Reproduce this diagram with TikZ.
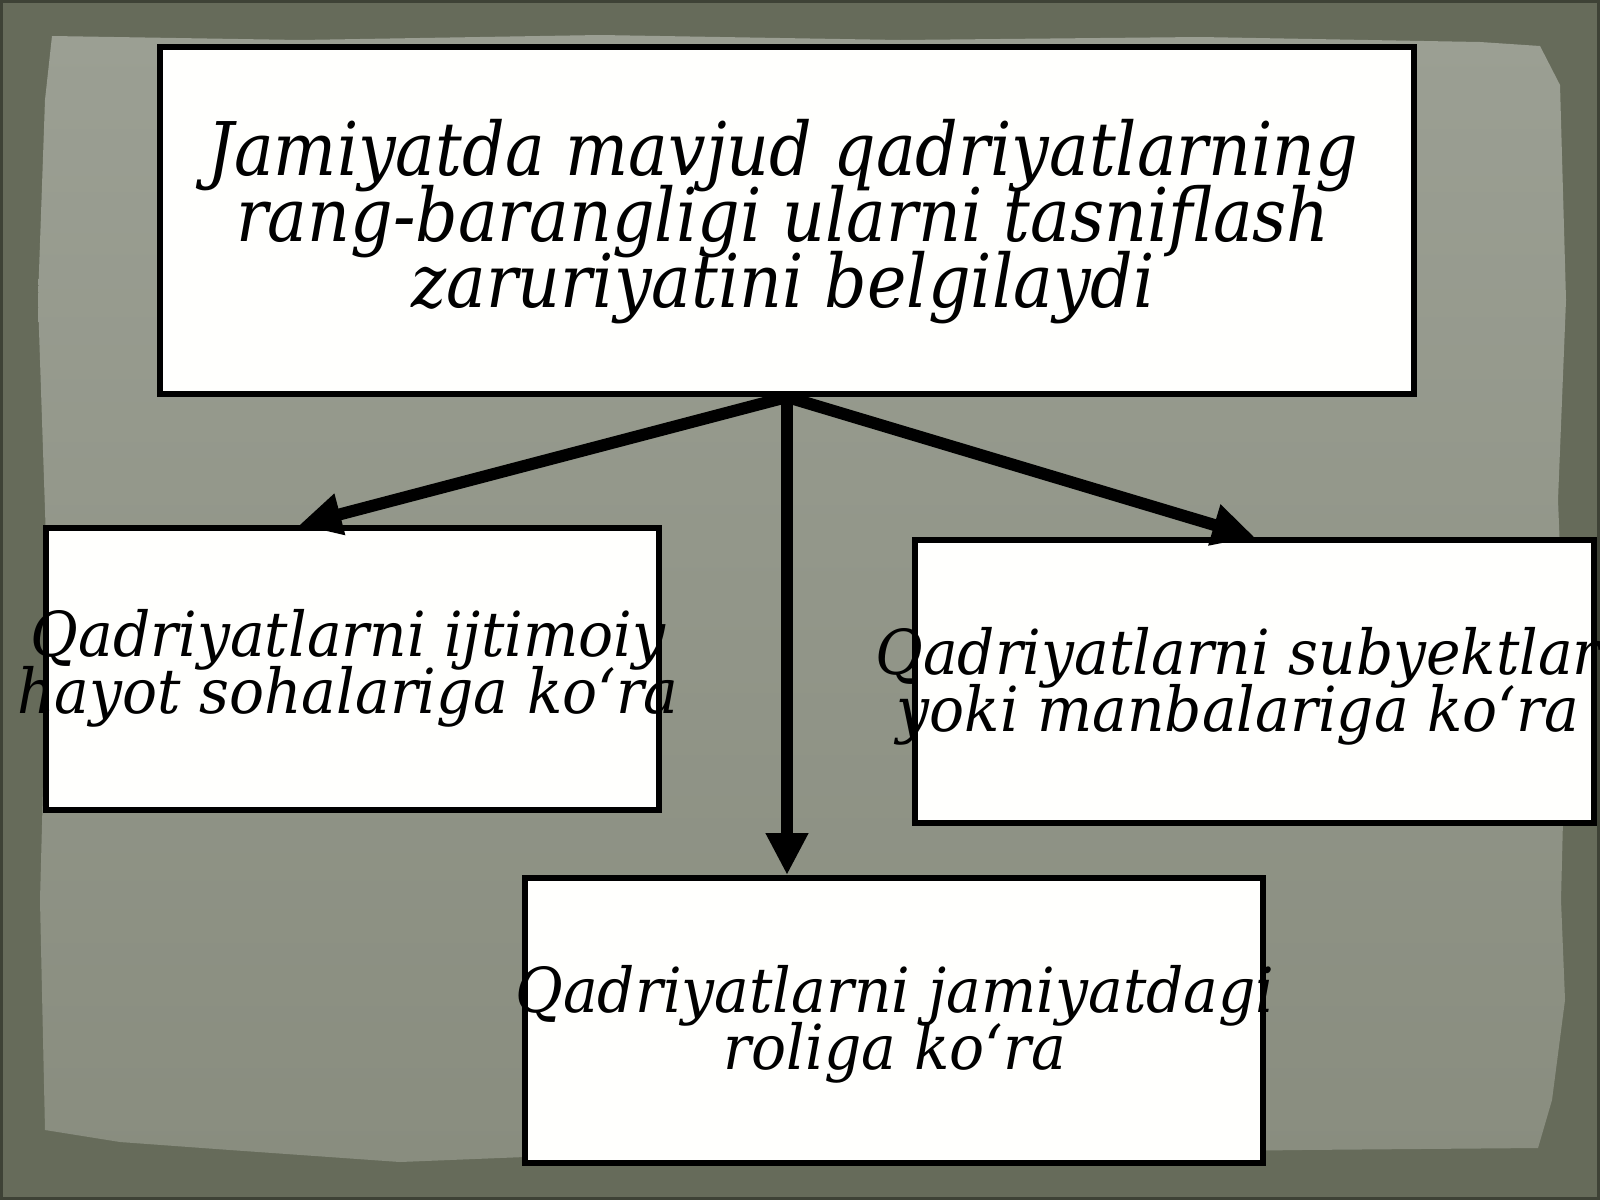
\documentclass[tikz,border=0pt]{standalone}
\usepackage{fontspec}
\setmainfont{DejaVu Serif}
\newfontfamily\topfont{DejaVu Serif}[FakeStretch=0.90]
\newfontfamily\subfont{DejaVu Serif}[FakeStretch=0.94]
\usetikzlibrary{arrows.meta,calc}
\definecolor{frameol}{HTML}{666B5A}
\definecolor{frameedge}{HTML}{3E4236}
\definecolor{paperlt}{HTML}{9B9F93}
\definecolor{paperdk}{HTML}{898D7F}
\definecolor{boxfill}{HTML}{FFFFFD}
\tikzset{
  box/.style={draw=black, line width=6pt, fill=boxfill, inner sep=0pt},
  toptxt/.style={font={\topfont\itshape\fontsize{74}{66}\selectfont\lineskiplimit=-200pt}, align=center, inner sep=0pt},
  subtxt/.style={font={\subfont\itshape\fontsize{62}{57}\selectfont\lineskiplimit=-200pt}, align=center, inner sep=0pt},
  conn/.style={draw=black, line width=12pt, -{Triangle[length=42pt,width=40pt]}}
}
\begin{document}
\begin{tikzpicture}[x=1pt,y=-1pt]
\useasboundingbox (0,0) rectangle (1600,1200);
% background frame
\fill[frameol] (0,0) rectangle (1600,1200);
\draw[frameedge, line width=3pt] (1.5,1.5) rectangle (1598.5,1198.5);
% paper
\shade[top color=paperlt, bottom color=paperdk]
  (52,36) -- (300,40) -- (600,35) -- (900,40) -- (1200,37) -- (1480,42) -- (1540,46)
  -- (1560,85) -- (1566,300) -- (1558,500) -- (1566,700) -- (1561,900) -- (1565,1000)
  -- (1552,1100) -- (1538,1148) -- (1300,1150) -- (1000,1154) -- (700,1150) -- (400,1162)
  -- (230,1150) -- (120,1142) -- (45,1130) -- (40,900) -- (48,600) -- (38,300) -- (45,100) -- cycle;
% boxes
\node[box, minimum width=1254pt, minimum height=347pt] (top) at (787,220.5) {};
\node[box, minimum width=613pt, minimum height=282pt] (lbox) at (352.5,669) {};
\node[box, minimum width=679pt, minimum height=283pt] (rbox) at (1254.5,681.5) {};
\node[box, minimum width=738pt, minimum height=285pt] (bbox) at (894,1020.5) {};
% texts
\node[toptxt] (toptext) at (783,222) {Jamiyatda mavjud qadriyatlarning\\rang-barangligi ularni tasniflash\\zaruriyatini belgilaydi};
\node[subtxt] (ltext) at (348,668) {Qadriyatlarni ijtimoiy\\hayot sohalariga ko‘ra};
\node[subtxt] (rtext) at (1238,686) {Qadriyatlarni subyektlar\\yoki manbalariga ko‘ra};
\node[subtxt] (btext) at (895,1024) {Qadriyatlarni jamiyatdagi\\roliga ko‘ra};
% connectors
\draw[conn] (top.south) -- ($(lbox.north west)!0.414!(lbox.north east)$);
\draw[conn] (top.south) -- (rbox.north);
\draw[conn] (top.south) -- (top.south |- bbox.north);
\end{tikzpicture}
\end{document}
